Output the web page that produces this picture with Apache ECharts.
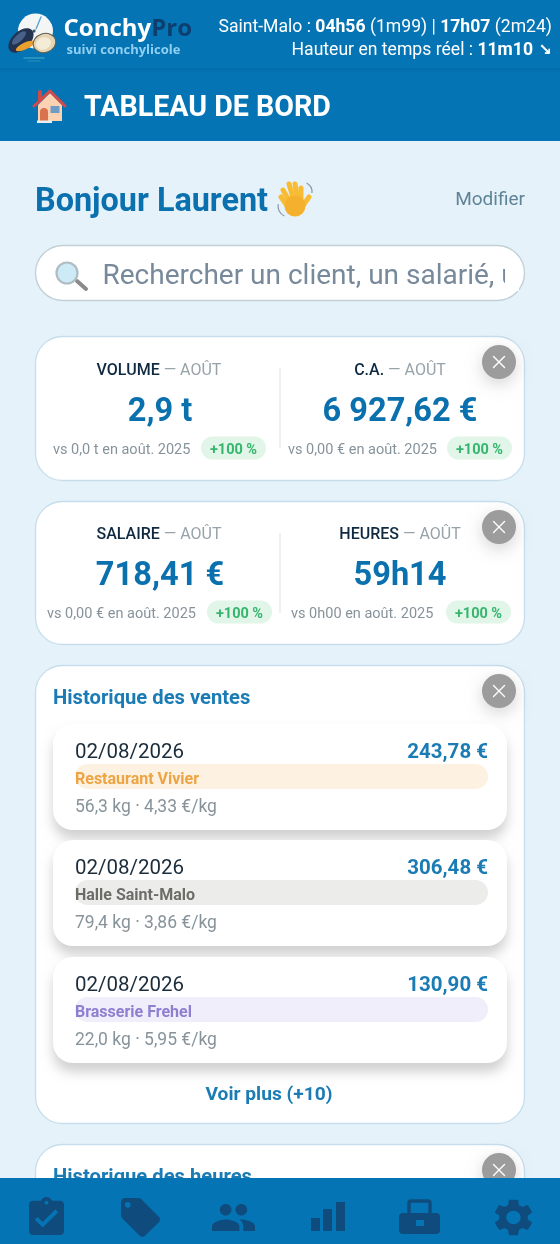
<!DOCTYPE html>
<html>
<head>
<meta charset="utf-8">
<title>ConchyPro</title>
<style>html,body{margin:0;padding:0;background:#e6f2fa}#chart{width:560px;height:1244px}</style>
<script src="https://cdn.jsdelivr.net/npm/echarts@6/dist/echarts.min.js"></script>
</head>
<body>
<div id="chart"></div>
<script>
// values
var tideLine = ['Saint-Malo : ', '04h56', ' (1m99) | ', '17h07', ' (2m24)'];
var heightLine = ['Hauteur en temps réel : ', '11m10', ' ↘'];
var kpiNames = ['VOLUME', 'C.A.', 'SALAIRE', 'HEURES'];
var kpiMonth = 'AOÛT';
var kpiValues = ['2,9 t', '6 927,62 €', '718,41 €', '59h14'];
var kpiCompare = ['vs 0,0 t en août. 2025', 'vs 0,00 € en août. 2025', 'vs 0,00 € en août. 2025', 'vs 0h00 en août. 2025'];
var kpiDelta = ['+100 %', '+100 %', '+100 %', '+100 %'];
var saleDates = ['02/08/2026', '02/08/2026', '02/08/2026'];
var saleAmounts = ['243,78 €', '306,48 €', '130,90 €'];
var saleClients = ['Restaurant Vivier', 'Halle Saint-Malo', 'Brasserie Frehel'];
var saleWeights = ['56,3 kg', '79,4 kg', '22,0 kg'];
var salePrices = ['4,33 €/kg', '3,86 €/kg', '5,95 €/kg'];
var moreCount = 10;

var BLUE = '#0474b5', TITLE = '#0b70ae', LINK = '#1b7cb5', NAVY = '#0f4c7d', GREY = '#87939b';
var FONT = 'Roboto';
var els = [];
var order = 0;

function add(el) {
    el.z = ++order;
    els.push(el);
    return el;
}
function box(x, y, w, h, r, fill, extra) {
    var style = {fill: fill};
    for (var k in extra) { style[k] = extra[k]; }
    return add({type: 'rect', shape: {x: x, y: y, width: w, height: h, r: r}, style: style});
}
function label(str, x, y, size, color, weight, align, family) {
    return add({type: 'text', style: {
        text: str, x: x, y: y, fill: color, align: align || 'left', verticalAlign: 'middle',
        font: (weight || 'normal') + ' ' + size + 'px ' + (family || FONT)
    }});
}
function richLabel(str, x, y, align, rich) {
    return add({type: 'text', style: {text: str, x: x, y: y, align: align, verticalAlign: 'middle', rich: rich}});
}
function dot(cx, cy, r, fill, extra) {
    var style = {fill: fill};
    for (var k in extra) { style[k] = extra[k]; }
    return add({type: 'circle', shape: {cx: cx, cy: cy, r: r}, style: style});
}
function stroke(x1, y1, x2, y2, color, width) {
    return add({type: 'line', shape: {x1: x1, y1: y1, x2: x2, y2: y2}, style: {stroke: color, lineWidth: width, lineCap: 'round'}});
}
function poly(points, fill) {
    return add({type: 'polygon', shape: {points: points}, style: {fill: fill}});
}
// svg icons have to be registered as shapes to be used in graphic
function icon(name, d, bbox, x, y, w, h, fill) {
    echarts.graphic.registerShape(name, echarts.graphic.extendPath(d, {}));
    var sx = w / (bbox[2] - bbox[0]), sy = h / (bbox[3] - bbox[1]);
    return add({type: name, x: x - bbox[0] * sx, y: y - bbox[1] * sy, scaleX: sx, scaleY: sy, style: {fill: fill}});
}
function closeBtn(cx, cy) {
    dot(cx, cy, 17, '#9c9c9c', {shadowBlur: 16, shadowColor: 'rgba(0,0,0,0.16)', shadowOffsetY: 5});
    stroke(cx - 5.5, cy - 5.5, cx + 5.5, cy + 5.5, '#fff', 1.4);
    stroke(cx + 5.5, cy - 5.5, cx - 5.5, cy + 5.5, '#fff', 1.4);
}
function card(y, h) {
    box(35.5, y + 0.5, 489, h, 27, '#fff', {stroke: '#c6deec', lineWidth: 1.3});
}

// header
box(0, 0, 560, 141, 0, BLUE);
box(0, 68, 560, 5, 0, {type: 'linear', x: 0, y: 0, x2: 0, y2: 1, colorStops: [
    {offset: 0, color: 'rgba(0,60,110,0.16)'}, {offset: 1, color: 'rgba(0,60,110,0)'}
]});

// logo
dot(35.5, 31, 17.5, '#f4f6f6');
stroke(36, 29, 41, 17, '#5aa5cf', 1.4);
stroke(33, 33, 36, 29, '#c9d2d6', 1.4);
dot(34, 31, 1.6, '#33566e');
stroke(24, 58, 44, 58, 'rgba(90,190,200,0.55)', 1.4);
stroke(28, 61, 40, 61, 'rgba(90,190,200,0.4)', 1.2);
add({type: 'ellipse', shape: {cx: 21, cy: 40.5, rx: 15, ry: 9}, rotation: 0.75, originX: 21, originY: 40.5, style: {fill: '#22324f'}});
add({type: 'ellipse', shape: {cx: 19, cy: 38, rx: 9, ry: 3.5}, rotation: 0.75, originX: 19, originY: 38, style: {fill: '#47618a'}});
add({type: 'ellipse', shape: {cx: 25, cy: 46, rx: 10, ry: 3.4}, rotation: 0.45, originX: 25, originY: 46, style: {fill: '#e9a02c'}});
add({type: 'ellipse', shape: {cx: 44.5, cy: 43, rx: 11.5, ry: 9.5}, rotation: 0.3, originX: 44.5, originY: 43, style: {fill: '#e5d5b5', stroke: '#5f5f52', lineWidth: 1}});
add({type: 'ellipse', shape: {cx: 43.5, cy: 43.5, rx: 7.5, ry: 6}, rotation: 0.3, originX: 43.5, originY: 43.5, style: {fill: '#f5ecd8'}});

richLabel('{a|Conchy}{b|Pro}', 63.5, 29, 'left', {
    a: {font: 'bold 24px "Open Sans"', fill: '#fff'},
    b: {font: 'bold 24px "Open Sans"', fill: '#0c3f6e'}
});
label('suivi conchylicole', 66.5, 50.5, 13, '#8fd0f2', 'bold', 'left', '"Open Sans"');

// tide info
var plain = {font: '17.6px ' + FONT, fill: '#fff'};
var bold = {font: 'bold 17.6px ' + FONT, fill: '#fff'};
richLabel('{p|' + tideLine[0] + '}{q|' + tideLine[1] + '}{p|' + tideLine[2] + '}{q|' + tideLine[3] + '}{p|' + tideLine[4] + '}',
    552, 28, 'right', {p: plain, q: bold});
richLabel('{p|' + heightLine[0] + '}{q|' + heightLine[1] + '}{s|' + heightLine[2] + '}',
    552, 51, 'right', {p: plain, q: bold, s: {font: 'bold 16px "DejaVu Sans"', fill: '#fff'}});

// house emoji
stroke(40, 92, 40, 100, '#cf4a44', 4);
poly([[38, 105], [50, 93], [62, 105], [62, 121], [38, 121]], '#fcd2b2');
add({type: 'polyline', shape: {points: [[34, 106], [50, 91], [65, 106]]}, style: {stroke: '#d24a4a', fill: 'none', lineWidth: 3, lineCap: 'round', lineJoin: 'round'}});
box(40, 108, 8, 13, [4, 4, 0, 0], '#d9734f');
box(50.5, 106, 9, 7, 0, '#6f9cc4');
box(37, 120.5, 15, 2.5, 0, '#e9eef2');

label('TABLEAU DE BORD', 84, 109, 28.6, '#fff', 'bold');

// greeting
label('Bonjour Laurent', 35, 202.5, 32.4, TITLE, 'bold');
// waving hand emoji
[[283, 190, 291, 204], [289, 184, 294, 201], [295, 184, 298, 201], [301, 188, 301, 203]].forEach(function (f) {
    stroke(f[0], f[1], f[2], f[3], '#f7bb34', 5);
});
stroke(309, 197, 302, 207, '#f7bb34', 5);
stroke(281, 197, 288, 207, '#f7bb34', 5);
dot(295, 206, 10.5, '#f5b02e');
add({type: 'arc', shape: {cx: 302, cy: 192, r: 10, startAngle: -1.1, endAngle: 0.1}, style: {stroke: '#8d93a8', fill: 'none', lineWidth: 1.2}});
add({type: 'arc', shape: {cx: 289, cy: 206, r: 11, startAngle: 2, endAngle: 3.3}, style: {stroke: '#8d93a8', fill: 'none', lineWidth: 1.2}});

label('Modifier', 525, 200.5, 19, '#5f8496', 'normal', 'right');

// search box
box(35.5, 245.5, 489, 55, 27.5, '#fff', {stroke: '#c2d0d8', lineWidth: 1.4});
stroke(77, 281, 86, 289, '#8b8b8b', 4);
dot(67, 273, 10.5, '#cdeaf7', {stroke: '#aebcc4', lineWidth: 2.2});
label('Rechercher un client, un salarié, u', 102.5, 277, 28, '#77899a');
box(505, 259, 14, 32, 0, '#fff');

// KPI cards
var kpiRich = {
    n: {font: '500 16px ' + FONT, fill: '#0f2a40'},
    m: {font: '16px ' + FONT, fill: '#97a2a9'}
};
function kpi(i, nameX, cy, cmpX, pillX, valueX) {
    richLabel('{n|' + kpiNames[i] + '}{m| — ' + kpiMonth + '}', nameX, cy + 2, 'center', kpiRich);
    label(kpiValues[i], valueX, cy + 44, 32.6, TITLE, 'bold', 'center');
    label(kpiCompare[i], cmpX, cy + 81, 14.5, GREY);
    box(pillX, cy + 67.5, 65, 23, 11.5, '#e1f6e8');
    label(kpiDelta[i], pillX + 32.5, cy + 81, 14.5, '#35b56d', 'bold', 'center');
}
card(336, 144);
box(279.5, 368, 1, 80, 0, '#dfe4e7');
kpi(0, 159, 369, 53, 201, 160);
kpi(1, 400, 369, 288, 447, 400);
closeBtn(499, 362);

card(501, 143);
box(279.5, 533, 1, 80, 0, '#dfe4e7');
kpi(2, 159, 533, 47, 207, 160);
kpi(3, 400, 533, 291, 446, 400);
closeBtn(499, 527);

// sales history
var pillFill = ['#fdf1e1', '#ececea', '#efeefa'];
var pillText = ['#eda444', '#6d6d68', '#8e7fd1'];
var rowTop = [724, 840, 957];
card(665, 458);
label('Historique des ventes', 53, 699, 20.2, LINK, 'bold');
closeBtn(499, 691);
rowTop.forEach(function (y, i) {
    box(53, y, 454, 106, 20, '#fff', {shadowBlur: 12, shadowColor: 'rgba(0,0,0,0.18)', shadowOffsetY: 9});
    label(saleDates[i], 75, y + 28.5, 20.5, '#1b2c3b');
    label(saleAmounts[i], 488, y + 28.5, 20.5, LINK, 'bold', 'right');
    box(75, y + 40, 413, 25, 12.5, pillFill[i]);
    label(saleClients[i], 75, y + 56, 16, pillText[i], 'bold');
    label(saleWeights[i] + ' · ' + salePrices[i], 75, y + 84, 17.5, GREY);
});
label('Voir plus (+' + moreCount + ')', 269, 1095, 19.2, LINK, 'bold', 'center');

// next card, cut off by the bottom bar
card(1144, 140);
label('Historique des heures', 53, 1178, 20.2, LINK, 'bold');
closeBtn(499, 1170);

// bottom bar
box(0, 1178, 560, 66, 0, BLUE);
icon('iconCheck', 'M19 3h-4.18C14.4 1.84 13.3 1 12 1c-1.3 0-2.4.84-2.82 2H5c-1.1 0-2 .9-2 2v14c0 1.1.9 2 2 2h14c1.1 0 2-.9 2-2V5c0-1.1-.9-2-2-2zm-7 0c.55 0 1 .45 1 1s-.45 1-1 1-1-.45-1-1 .45-1 1-1zm-2 14l-4-4 1.41-1.41L10 14.17l6.59-6.59L18 9l-8 8z', [3, 1, 21, 21], 29, 1197, 35, 38, NAVY);
icon('iconTag', 'M21.41 11.58l-9-9C12.05 2.22 11.55 2 11 2H4c-1.1 0-2 .9-2 2v7c0 .55.22 1.05.59 1.42l9 9c.36.36.86.58 1.41.58.55 0 1.05-.22 1.41-.59l7-7c.37-.36.59-.86.59-1.41 0-.55-.23-1.06-.59-1.42zM5.5 7C4.67 7 4 6.33 4 5.5S4.67 4 5.5 4 7 4.67 7 5.5 6.33 7 5.5 7z', [2, 2, 22, 22], 121, 1198, 39, 39, NAVY);
icon('iconPeople', 'M16 11c1.66 0 2.99-1.34 2.99-3S17.66 5 16 5c-1.66 0-3 1.34-3 3s1.34 3 3 3zm-8 0c1.66 0 2.99-1.34 2.99-3S9.66 5 8 5C6.34 5 5 6.34 5 8s1.34 3 3 3zm0 2c-2.33 0-7 1.17-7 3.5V19h14v-2.5c0-2.33-4.67-3.5-7-3.5zm8 0c-.29 0-.62.02-.97.05 1.16.84 1.97 1.97 1.97 3.45V19h6v-2.5c0-2.33-4.67-3.5-7-3.5z', [1, 5, 23, 19], 212, 1204, 43, 27, NAVY);
box(311, 1218, 9, 13, 0, NAVY);
box(323, 1209, 9, 22, 0, NAVY);
box(336, 1202, 9, 29, 0, NAVY);
// briefcase: handle then body with a clasp
box(409, 1201, 21, 19, 2, 'rgba(0,0,0,0)', {stroke: NAVY, lineWidth: 3.5});
box(399, 1213, 41, 21, 4, NAVY);
box(416, 1220, 8, 6, 0, BLUE);
icon('iconGear', 'M19.14 12.94c.04-.3.06-.61.06-.94 0-.32-.02-.64-.07-.94l2.03-1.58c.18-.14.23-.41.12-.61l-1.92-3.32c-.12-.22-.37-.29-.59-.22l-2.39.96c-.5-.38-1.03-.7-1.62-.94l-.36-2.54c-.04-.24-.24-.41-.48-.41h-3.84c-.24 0-.43.17-.47.41l-.36 2.54c-.59.24-1.13.57-1.62.94l-2.39-.96c-.22-.08-.47 0-.59.22L2.74 8.87c-.12.21-.08.47.12.61l2.03 1.58c-.05.3-.09.63-.09.94s.02.64.07.94l-2.03 1.58c-.18.14-.23.41-.12.61l1.92 3.32c.12.22.37.29.59.22l2.39-.96c.5.38 1.03.7 1.62.94l.36 2.54c.05.24.24.41.48.41h3.84c.24 0 .44-.17.47-.41l.36-2.54c.59-.24 1.13-.56 1.62-.94l2.39.96c.22.08.47 0 .59-.22l1.92-3.32c.12-.22.07-.47-.12-.61l-2.01-1.58zM12 15.6c-1.98 0-3.6-1.62-3.6-3.6s1.62-3.6 3.6-3.6 3.6 1.62 3.6 3.6-1.62 3.6-3.6 3.6z', [2.7, 2, 21.3, 22], 495, 1199, 37, 37, NAVY);

var chart = echarts.init(document.getElementById('chart'));
chart.setOption({
    animation: false,
    backgroundColor: '#e6f2fa',
    graphic: {elements: els}
});
</script>
</body>
</html>
